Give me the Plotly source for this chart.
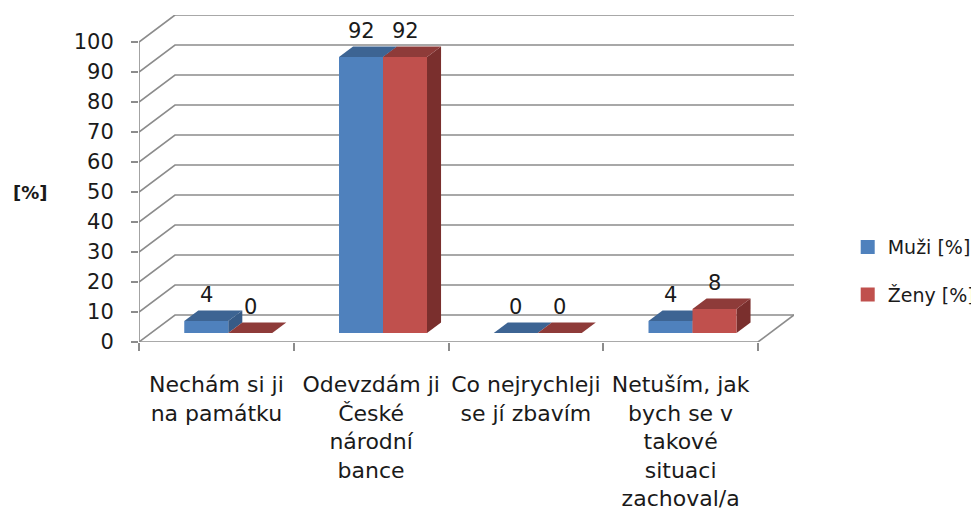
import plotly.graph_objects as go

categories = ["Nechám si ji<br>na památku", "Odevzdám ji<br>České<br>národní<br>bance",
              "Co nejrychleji<br>se jí zbavím", "Netuším, jak<br>bych se v<br>takové<br>situaci<br>zachoval/a"]
series_names = ["Muži [%]", "Ženy [%]"]
muzi = [4, 92, 0, 4]
zeny = [0, 92, 0, 8]
y_ticks = [0, 10, 20, 30, 40, 50, 60, 70, 80, 90, 100]

front_cols = ["#4F81BD", "#C0504D"]
top_cols = ["#3D6493", "#8E3B39"]
side_cols = ["#375B87", "#7A2F2D"]

n = len(categories)
DX = 36 / 154.75     # depth offset in x units
DY = 9.0             # depth offset in y units
F0, F1 = 0.33, 0.72  # bar front/back depth fractions
W = 44 / 154.75      # bar width
GRID = "#8C8C8C"
FONT = "DejaVu Sans"
TXT = "#1a1a1a"

fig = go.Figure()
series = [muzi, zeny]


def poly(xs, ys, col):
    fig.add_trace(go.Scatter(x=xs + [xs[0]], y=ys + [ys[0]], fill="toself", fillcolor=col,
                             mode="lines", line=dict(width=0), showlegend=False, hoverinfo="skip"))


for i in range(n):
    for s, vals in enumerate(series):
        v = vals[i]
        c = i + 0.5 + (s - 0.5) * W
        xl, xr = c - W / 2 + F0 * DX, c + W / 2 + F0 * DX
        b0 = F0 * DY
        dxx, dyy = (F1 - F0) * DX, (F1 - F0) * DY
        poly([xr, xr + dxx, xr + dxx, xr], [b0, b0 + dyy, b0 + dyy + v, b0 + v], side_cols[s])
        poly([xl, xr, xr + dxx, xl + dxx], [b0 + v, b0 + v, b0 + v + dyy, b0 + v + dyy], top_cols[s])
        if v > 0:
            poly([xl, xr, xr, xl], [b0, b0, b0 + v, b0 + v], front_cols[s])

# legend entries
for s in range(2):
    fig.add_trace(go.Scatter(x=[None], y=[None], mode="markers", name=series_names[s],
                             legendgroup=series_names[s],
                             marker=dict(symbol="square", size=14, color=front_cols[s])))

# value labels
for s, vals in enumerate(series):
    for i, v in enumerate(vals):
        c = i + 0.5 + (s - 0.5) * W + F0 * DX
        fig.add_annotation(x=c, y=v + F0 * DY, text=str(v), showarrow=False,
                           yshift=26, font=dict(family=FONT, size=21, color=TXT))

# back wall gridlines
shapes = []
for t in y_ticks:
    shapes.append(dict(type="path", path=f"M 0,{t} L {DX},{t + DY} L {n + DX},{t + DY}",
                       line=dict(color=GRID, width=1.6), layer="below"))
shapes.append(dict(type="line", x0=0, y0=0, x1=0, y1=y_ticks[-1], line=dict(color=GRID, width=1.6), layer="below"))
shapes.append(dict(type="line", x0=0, y0=0, x1=n, y1=0, line=dict(color=GRID, width=1.6), layer="below"))
shapes.append(dict(type="line", x0=n, y0=0, x1=n + DX, y1=DY, line=dict(color=GRID, width=1.6), layer="below"))

fig.add_annotation(x=-0.1664, y=0.456, xref="paper", yref="paper", text="<b>[%]</b>",
                   xanchor="center", yanchor="middle",
                   showarrow=False, font=dict(family=FONT, size=18, color=TXT))

# page body has an 8px margin, so the figure is 8px smaller on each axis
fig.update_layout(
    width=971, height=521,
    margin=dict(l=131, r=185, t=7, b=187, autoexpand=False),
    paper_bgcolor="white", plot_bgcolor="white",
    shapes=shapes,
    font=dict(family=FONT, size=21, color=TXT),
    showlegend=True,
    legend=dict(x=1.082, y=0.217, xanchor="left", yanchor="middle",
                font=dict(family=FONT, size=19, color=TXT), tracegroupgap=20,
                bgcolor="rgba(0,0,0,0)"),
    xaxis=dict(range=[0, n + DX], showgrid=False, zeroline=False, showline=False, automargin=False,
               tickvals=[i + 0.5 for i in range(n)], ticktext=categories, ticks="",
               ticklabelstandoff=27, tickfont=dict(family=FONT, size=22, color=TXT),
               minor=dict(tickvals=list(range(n + 1)), ticks="outside", ticklen=8,
                          tickcolor=GRID, tickwidth=1.6, showgrid=False)),
    yaxis=dict(range=[0, 100 + DY], showgrid=False, zeroline=False, showline=False, automargin=False,
               tickvals=y_ticks, ticks="outside", ticklen=7, tickcolor=GRID, tickwidth=1.6,
               ticklabelstandoff=13, tickfont=dict(family=FONT, size=21, color=TXT)),
)

fig.write_html("out.html")
